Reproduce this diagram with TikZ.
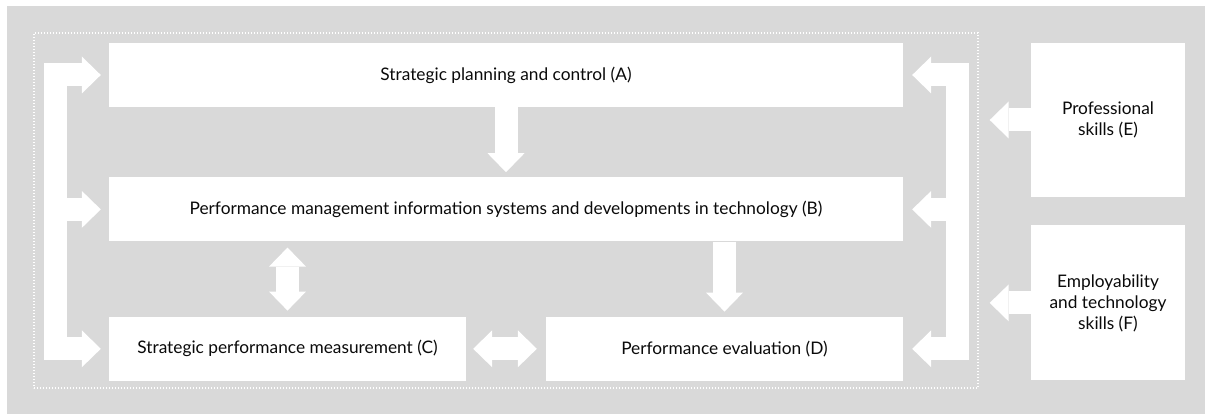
\documentclass[tikz,border=0pt]{standalone}
\usepackage{fontspec}
\setmainfont{Lato}
\usetikzlibrary{arrows.meta, positioning, calc}
\definecolor{panelgray}{RGB}{217,217,217}
\definecolor{inktext}{RGB}{10,10,10}

\begin{document}
\begin{tikzpicture}[
        x=1pt, y=-1pt,
        node distance=28pt,
        box/.style={rectangle, fill=white, inner sep=0pt, align=center, text=inktext, font=\fontsize{17.3}{21}\selectfont},
        wide/.style={box, minimum width=794pt, minimum height=64pt},
        half/.style={box, minimum width=357pt, minimum height=64pt},
        skill/.style={box, minimum width=154pt, minimum height=155pt},
        frame/.style={rectangle, draw=white, line width=1.4pt, dash pattern=on 1.3pt off 1.7pt, inner sep=0pt},
        blk/.style={draw=white, line width=23pt, -{Triangle[width=37pt, length=19pt, line width=0pt]}},
        dblk/.style={draw=white, line width=23pt, {Triangle[width=37pt, length=19pt, line width=0pt]}-{Triangle[width=37pt, length=19pt, line width=0pt]}}
    ]
        \useasboundingbox (0,0) rectangle (1205,414);
        \fill[panelgray] (7,6) rectangle (1205,414);
        \node[frame, minimum width=944pt, minimum height=355pt] (frame) at (506,210.5) {};

        \node[wide] (planning) at (506,75) {Strategic planning and control (A)};
        \node[wide, below=70pt of planning] (systems) {Performance management information systems and developments in technology (B)};
        \node[half, below=75pt of systems.south west, anchor=north west] (measure) {Strategic performance measurement (C)};
        \node[half, below=75pt of systems.south east, anchor=north east] (evaluation) {Performance evaluation (D)};
        \node[skill, minimum height=154pt] (professional) at (1108,120) {Professional\\skills (E)};
        \node[skill, below=of professional] (employ) {Employability\\and technology\\skills (F)};

        \coordinate (leftbar) at (55.5,0);
        \coordinate (rightbar) at (957,0);

        \draw[blk, shorten >=5pt] (planning) -- (systems);
        \draw[blk, shorten >=5pt] (systems.south -| evaluation) -- (evaluation);
        \draw[dblk, shorten <=6pt, shorten >=6pt] (systems.south -| measure) -- (measure);
        \draw[dblk, shorten <=7pt, shorten >=9pt] (measure) -- (evaluation);

        \draw[blk, shorten >=8pt] (leftbar |- measure.west) -- (leftbar |- planning.west) -- (planning);
        \draw[blk, shorten >=8pt] (leftbar |- planning.west) -- (leftbar |- measure.west) -- (measure);
        \draw[blk, shorten >=8pt] (leftbar |- systems.west) -- (systems);

        \draw[blk, shorten >=9pt] (rightbar |- evaluation.east) -- (rightbar |- planning.east) -- (planning);
        \draw[blk, shorten >=9pt] (rightbar |- planning.east) -- (rightbar |- evaluation.east) -- (evaluation);
        \draw[blk, shorten >=9pt] (rightbar |- systems.east) -- (systems);

        \draw[blk, shorten >=11pt] (professional) -- (professional -| frame.east);
        \draw[blk, shorten >=11pt] (employ) -- (employ -| frame.east);
    \end{tikzpicture}
\end{document}
